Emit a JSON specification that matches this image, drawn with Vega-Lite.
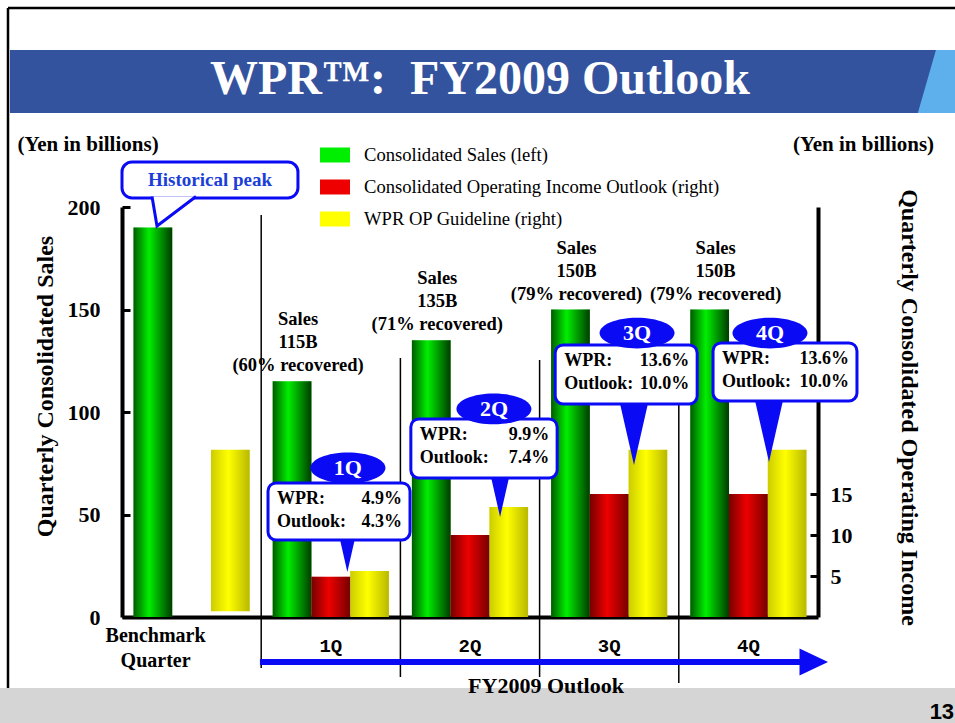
{
  "$schema": "https://vega.github.io/schema/vega-lite/v6.json",
  "width": 696,
  "height": 410,
  "autosize": {"type": "none"},
  "padding": {"left": 122, "top": 207, "right": 137, "bottom": 106},
  "background": "white",
  "config": {
    "view": {"stroke": null},
    "axis": {"grid": false},
    "text": {"font": "Liberation Serif", "fontWeight": "bold", "fontSize": 18, "color": "black"}
  },
  "datasets": {
    "bars": [
      {"quarter": "Benchmark", "series": "Consolidated Sales (left)", "value": 190, "base": 0},
      {"quarter": "Benchmark", "series": "WPR OP Guideline (right)", "value": 20.4, "base": 0.7},
      {"quarter": "1Q", "series": "Consolidated Sales (left)", "value": 115, "base": 0, "note": "Sales\n115B\n(60% recovered)"},
      {"quarter": "1Q", "series": "Consolidated Operating Income Outlook (right)", "value": 4.9, "base": 0},
      {"quarter": "1Q", "series": "WPR OP Guideline (right)", "value": 5.6, "base": 0},
      {"quarter": "2Q", "series": "Consolidated Sales (left)", "value": 135, "base": 0, "note": "Sales\n135B\n(71% recovered)"},
      {"quarter": "2Q", "series": "Consolidated Operating Income Outlook (right)", "value": 10.0, "base": 0},
      {"quarter": "2Q", "series": "WPR OP Guideline (right)", "value": 13.4, "base": 0},
      {"quarter": "3Q", "series": "Consolidated Sales (left)", "value": 150, "base": 0, "note": "Sales\n150B\n(79% recovered)"},
      {"quarter": "3Q", "series": "Consolidated Operating Income Outlook (right)", "value": 15.0, "base": 0},
      {"quarter": "3Q", "series": "WPR OP Guideline (right)", "value": 20.4, "base": 0},
      {"quarter": "4Q", "series": "Consolidated Sales (left)", "value": 150, "base": 0, "note": "Sales\n150B\n(79% recovered)"},
      {"quarter": "4Q", "series": "Consolidated Operating Income Outlook (right)", "value": 15.0, "base": 0},
      {"quarter": "4Q", "series": "WPR OP Guideline (right)", "value": 20.4, "base": 0}
    ],
    "strip": [{"x": -1.45, "x2": 5.6, "y": -34.6, "y2": -53}],
    "banner": [{"x": -1.305, "x2": 5.35, "y": 276.6, "y2": 245.9}],
    "bannerTip": [{"x": 5.376, "y": 261.2}],
    "title": [{"x": 2.072, "y": 261.95, "text": "WPR™:\u00a0 FY2009 Outlook"}],
    "frame": [
      {"x": -1.319, "x2": -1.319, "y": 297.1, "y2": -34.6},
      {"x": -1.319, "x2": 5.6, "y": 297.1, "y2": 297.1}
    ],
    "units": [
      {"x": -0.744, "y": 230.2, "text": "(Yen in billions)"},
      {"x": 4.827, "y": 230.2, "text": "(Yen in billions)"}
    ],
    "separators": [
      {"x": 0.5, "y": 196.1, "y2": -24.9},
      {"x": 1.5, "y": 126.3, "y2": -29.3},
      {"x": 2.5, "y": 125.4, "y2": -29.3},
      {"x": 3.5, "y": 127.8, "y2": -32.2}
    ],
    "arrow": [{"x": 0.491, "x2": 4.40, "y": -21.95}],
    "arrowHead": [{"x": 4.572, "y": -21.95}],
    "fyLabel": [{"x": 2.546, "y": -33.7, "text": "FY2009 Outlook"}],
    "page": [{"x": 5.302, "y": -46.3, "text": "13"}],
    "tails": [
      {"x": 1.119, "y": 21.95},
      {"x": 2.216, "y": 48.8},
      {"x": 3.178, "y": 74.1},
      {"x": 4.148, "y": 75.6}
    ],
    "boxes": [
      {"x": 0.549, "x2": 1.569, "y": 65.4, "y2": 37.6, "labels": "WPR:\nOutlook:", "vals": "4.9%\n4.3%"},
      {"x": 1.575, "x2": 2.626, "y": 96.6, "y2": 67.8, "labels": "WPR:\nOutlook:", "vals": "9.9%\n7.4%"},
      {"x": 2.612, "x2": 3.632, "y": 132.7, "y2": 103.9, "labels": "WPR:\nOutlook:", "vals": "13.6%\n10.0%"},
      {"x": 3.746, "x2": 4.78, "y": 133.7, "y2": 105.4, "labels": "WPR:\nOutlook:", "vals": "13.6%\n10.0%"}
    ],
    "ovals": [
      {"x": 1.123, "y": 72.7, "text": "1Q"},
      {"x": 2.172, "y": 101.5, "text": "2Q"},
      {"x": 3.2, "y": 138.5, "text": "3Q"},
      {"x": 4.155, "y": 138.5, "text": "4Q"}
    ],
    "peakBox": [{"x": -0.5, "x2": 0.764, "y": 222, "y2": 204.4}],
    "peakTail": [{"x": -0.2486, "y": 190.7}],
    "peakText": [{"x": 0.132, "y": 213.2, "text": "Historical peak"}]
  },
  "layer": [
    {
      "data": {"name": "bars"},
      "transform": [{"filter": "datum.series == 'Consolidated Sales (left)'"}],
      "encoding": {
        "x": {
          "field": "quarter", "type": "nominal",
          "scale": {"domain": ["Benchmark", "1Q", "2Q", "3Q", "4Q"], "paddingInner": 0.165, "paddingOuter": 0.0825},
          "axis": {
            "title": null, "domainColor": "black", "domainWidth": 4, "ticks": false, "labelAngle": 0,
            "labelExpr": "datum.value == 'Benchmark' ? ['Benchmark', 'Quarter'] : datum.value",
            "labelFont": {"condition": {"test": "datum.value == 'Benchmark'", "value": "Liberation Serif"}, "value": "Liberation Mono"},
            "labelFontSize": {"condition": {"test": "datum.value == 'Benchmark'", "value": 20}, "value": 19},
            "labelOffset": {"condition": {"test": "datum.value == 'Benchmark'", "value": -36}, "value": 0},
            "labelPadding": {"condition": {"test": "datum.value == 'Benchmark'", "value": 18}, "value": 28},
            "labelFontWeight": "bold", "labelColor": "black",
            "labelBaseline": "middle", "labelLineHeight": 25
          }
        },
        "xOffset": {
          "field": "series", "type": "nominal",
          "scale": {"domain": ["Consolidated Sales (left)", "Consolidated Operating Income Outlook (right)", "WPR OP Guideline (right)"], "paddingInner": 0, "paddingOuter": 0}
        },
        "y": {
          "field": "value", "type": "quantitative",
          "scale": {"domain": [0, 200], "nice": false},
          "axis": {
            "title": "Quarterly Consolidated Sales", "titleFont": "Liberation Serif", "titleFontSize": 24, "titleFontWeight": "bold", "titleColor": "black",
            "titleX": -77, "titleY": 179, "titleAngle": 270, "titleBaseline": "middle", "titleAlign": "center",
            "values": [0, 50, 100, 150, 200], "domainColor": "black", "domainWidth": 4,
            "tickColor": "black", "tickWidth": 3, "tickSize": -8, "labelPadding": 30,
            "labelFont": "Liberation Serif", "labelFontSize": 22, "labelFontWeight": "bold", "labelColor": "black"
          }
        }
      },
      "layer": [
        {
          "mark": {"type": "bar"},
          "encoding": {
            "color": {
              "field": "series", "type": "nominal",
              "scale": {"domain": ["Consolidated Sales (left)", "Consolidated Operating Income Outlook (right)", "WPR OP Guideline (right)"], "range": ["#00EE00", "#EE0000", "#FFFF00"]},
              "legend": {"title": null, "orient": "none", "legendX": 198, "legendY": -67, "direction": "vertical", "symbolType": "M-1,-0.5H1V0.5H-1Z", "symbolSize": 900, "symbolStrokeWidth": 0, "labelFont": "Liberation Serif", "labelFontSize": 18.6, "labelFontWeight": "normal", "labelColor": "black", "labelOffset": 14, "rowPadding": 7, "labelLimit": 600}
            }
          }
        },
        {
          "mark": {"type": "bar", "fill": {"gradient": "linear", "x1": 0, "x2": 1, "y1": 0, "y2": 0, "stops": [{"offset": 0, "color": "rgba(0,0,0,0.62)"}, {"offset": 0.4, "color": "rgba(0,0,0,0)"}, {"offset": 1, "color": "rgba(0,0,0,0.75)"}]}}
        },
        {
          "transform": [{"filter": "isValid(datum.note)"}],
          "mark": {"type": "text", "lineBreak": "\n", "align": "center", "baseline": "middle", "dx": 6, "dy": -62, "lineHeight": 23, "fontSize": 18.5, "fontWeight": "bold", "font": "Liberation Serif", "color": "black"},
          "encoding": {"text": {"field": "note"}}
        }
      ]
    },
    {
      "data": {"name": "bars"},
      "transform": [{"filter": "datum.series != 'Consolidated Sales (left)'"}],
      "encoding": {
        "x": {
          "field": "quarter", "type": "nominal",
          "scale": {"domain": ["Benchmark", "1Q", "2Q", "3Q", "4Q"], "paddingInner": 0.165, "paddingOuter": 0.0825},
          "axis": null
        },
        "xOffset": {
          "field": "series", "type": "nominal",
          "scale": {"domain": ["Consolidated Sales (left)", "Consolidated Operating Income Outlook (right)", "WPR OP Guideline (right)"], "paddingInner": 0, "paddingOuter": 0}
        },
        "y": {
          "field": "value", "type": "quantitative",
          "scale": {"domain": [0, 50], "nice": false},
          "axis": {
            "orient": "right",
            "title": "Quarterly Consolidated Operating Income", "titleFont": "Liberation Serif", "titleFontSize": 24, "titleFontWeight": "bold", "titleColor": "black",
            "titleX": 90, "titleY": 200, "titleAngle": 90, "titleBaseline": "middle", "titleAlign": "center",
            "values": [5, 10, 15], "domainColor": "black", "domainWidth": 4,
            "tickColor": "black", "tickWidth": 3, "tickSize": -8, "labelPadding": 20,
            "labelFont": "Liberation Serif", "labelFontSize": 22, "labelFontWeight": "bold", "labelColor": "black"
          }
        },
        "y2": {"field": "base"}
      },
      "layer": [
        {
          "mark": {"type": "bar"},
          "encoding": {
            "color": {
              "field": "series", "type": "nominal",
              "scale": {"domain": ["Consolidated Sales (left)", "Consolidated Operating Income Outlook (right)", "WPR OP Guideline (right)"], "range": ["#00EE00", "#EE0000", "#FFFF00"]},
              "legend": {"title": null, "orient": "none", "legendX": 198, "legendY": -67, "direction": "vertical", "symbolType": "M-1,-0.5H1V0.5H-1Z", "symbolSize": 900, "symbolStrokeWidth": 0, "labelFont": "Liberation Serif", "labelFontSize": 18.6, "labelFontWeight": "normal", "labelColor": "black", "labelOffset": 14, "rowPadding": 7, "labelLimit": 600}
            }
          }
        },
        {
          "transform": [{"filter": "datum.series == 'Consolidated Operating Income Outlook (right)'"}],
          "mark": {"type": "bar", "fill": {"gradient": "linear", "x1": 0, "x2": 1, "y1": 0, "y2": 0, "stops": [{"offset": 0, "color": "rgba(0,0,0,0.5)"}, {"offset": 0.45, "color": "rgba(0,0,0,0)"}, {"offset": 1, "color": "rgba(0,0,0,0.5)"}]}}
        },
        {
          "transform": [{"filter": "datum.series == 'WPR OP Guideline (right)'"}],
          "mark": {"type": "bar", "fill": {"gradient": "linear", "x1": 0, "x2": 1, "y1": 0, "y2": 0, "stops": [{"offset": 0, "color": "rgba(0,0,0,0.2)"}, {"offset": 0.45, "color": "rgba(0,0,0,0)"}, {"offset": 1, "color": "rgba(0,0,0,0.28)"}]}}
        }
      ]
    },
    {
      "encoding": {
        "x": {"field": "x", "type": "quantitative", "scale": {"domain": [-0.5, 4.5], "nice": false, "zero": false}, "axis": null},
        "y": {"field": "y", "type": "quantitative", "scale": {"domain": [0, 200], "nice": false, "zero": false}, "axis": null}
      },
      "layer": [
        {"data": {"name": "frame"}, "mark": {"type": "rule", "color": "black", "strokeWidth": 2.5}, "encoding": {"x2": {"field": "x2"}, "y2": {"field": "y2"}}},
        {"data": {"name": "strip"}, "mark": {"type": "rect", "color": "#D5D5D5"}, "encoding": {"x2": {"field": "x2"}, "y2": {"field": "y2"}}},
        {"data": {"name": "banner"}, "mark": {"type": "rect", "color": "#34539E"}, "encoding": {"x2": {"field": "x2"}, "y2": {"field": "y2"}}},
        {"data": {"name": "bannerTip"}, "mark": {"type": "point", "shape": "M -0.125 -0.984 L 1.2 -0.984 L 1.2 0.984 L -0.69 0.984 Z", "size": 4096, "filled": true, "color": "#5DB0EC", "opacity": 1, "strokeWidth": 0}},
        {"data": {"name": "title"}, "mark": {"type": "text", "font": "Liberation Serif", "fontWeight": "bold", "fontSize": 48, "color": "white", "align": "center", "baseline": "middle"}, "encoding": {"text": {"field": "text"}}},
        {"data": {"name": "units"}, "mark": {"type": "text", "font": "Liberation Serif", "fontWeight": "bold", "fontSize": 21, "color": "black", "align": "center", "baseline": "middle"}, "encoding": {"text": {"field": "text"}}},
        {"data": {"name": "separators"}, "mark": {"type": "rule", "color": "black", "strokeWidth": 1.5}, "encoding": {"y2": {"field": "y2"}}},
        {"data": {"name": "arrow"}, "mark": {"type": "rule", "color": "#0A0AF5", "strokeWidth": 6}, "encoding": {"x2": {"field": "x2"}}},
        {"data": {"name": "arrowHead"}, "mark": {"type": "point", "shape": "M -1.9 -0.9 L 0 0 L -1.9 0.9 Z", "size": 900, "filled": true, "color": "#0A0AF5", "opacity": 1, "strokeWidth": 0}},
        {"data": {"name": "fyLabel"}, "mark": {"type": "text", "font": "Liberation Serif", "fontWeight": "bold", "fontSize": 22, "color": "black", "align": "center", "baseline": "middle"}, "encoding": {"text": {"field": "text"}}},
        {"data": {"name": "page"}, "mark": {"type": "text", "font": "Liberation Sans", "fontWeight": "bold", "fontSize": 22, "color": "black", "align": "left", "baseline": "middle"}, "encoding": {"text": {"field": "text"}}},
        {"data": {"name": "tails"}, "mark": {"type": "point", "shape": "M -0.47 -2.07 L 0.47 -2.07 L 0 0 Z", "size": 3600, "filled": true, "color": "#0A0AF5", "opacity": 1, "strokeWidth": 0}},
        {"data": {"name": "boxes"}, "mark": {"type": "rect", "fill": "white", "stroke": "#0A0AF5", "strokeWidth": 3, "cornerRadius": 8}, "encoding": {"x2": {"field": "x2"}, "y2": {"field": "y2"}}},
        {"data": {"name": "boxes"}, "mark": {"type": "text", "lineBreak": "\n", "font": "Liberation Serif", "fontWeight": "bold", "fontSize": 18, "color": "black", "align": "left", "baseline": "middle", "dx": 9, "dy": 16, "lineHeight": 23}, "encoding": {"text": {"field": "labels"}}},
        {"data": {"name": "boxes"}, "mark": {"type": "text", "lineBreak": "\n", "font": "Liberation Serif", "fontWeight": "bold", "fontSize": 18, "color": "black", "align": "right", "baseline": "middle", "dx": -8, "dy": 16, "lineHeight": 23}, "encoding": {"x": {"field": "x2", "type": "quantitative"}, "text": {"field": "vals"}}},
        {"data": {"name": "ovals"}, "mark": {"type": "point", "shape": "M -1 0 C -1 -0.2264 -0.5523 -0.41 0 -0.41 C 0.5523 -0.41 1 -0.2264 1 0 C 1 0.2264 0.5523 0.41 0 0.41 C -0.5523 0.41 -1 0.2264 -1 0 Z", "size": 5625, "filled": true, "color": "#0A0AF5", "opacity": 1, "strokeWidth": 0}},
        {"data": {"name": "ovals"}, "mark": {"type": "text", "font": "Liberation Serif", "fontWeight": "bold", "fontSize": 22, "color": "white", "align": "center", "baseline": "middle"}, "encoding": {"text": {"field": "text"}}},
        {"data": {"name": "peakBox"}, "mark": {"type": "rect", "fill": "white", "stroke": "#0A0AF5", "strokeWidth": 3, "cornerRadius": 10}, "encoding": {"x2": {"field": "x2"}, "y2": {"field": "y2"}}},
        {"data": {"name": "peakTail"}, "mark": {"type": "point", "shape": "M -0.25 -1.475 L 0 0 L 1.95 -1.475", "size": 1600, "filled": false, "fill": "white", "fillOpacity": 1, "stroke": "#0A0AF5", "strokeWidth": 3, "opacity": 1}},
        {"data": {"name": "peakText"}, "mark": {"type": "text", "font": "Liberation Serif", "fontWeight": "bold", "fontSize": 19, "color": "#1C3ED8", "align": "center", "baseline": "middle"}, "encoding": {"text": {"field": "text"}}}
      ]
    }
  ],
  "resolve": {"scale": {"x": "independent", "y": "independent", "xOffset": "independent"}}
}
